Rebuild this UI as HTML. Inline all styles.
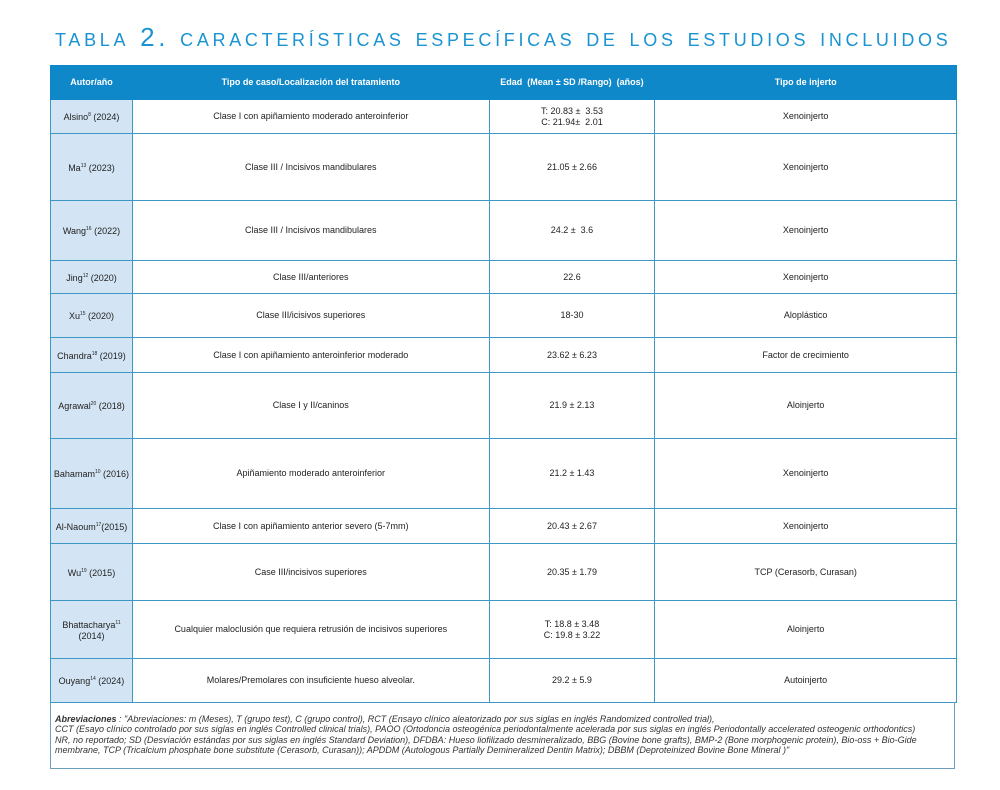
<!DOCTYPE html>
<html><head><meta charset="utf-8"><style>
body{margin:0;width:1000px;height:790px;background:#fff;font-family:"Liberation Sans",sans-serif;position:relative;overflow:hidden}
.t{position:absolute;left:55px;top:22px;font-size:26px;color:#1a93d2;font-variant:small-caps;letter-spacing:3.7px;white-space:nowrap;text-transform:lowercase;font-weight:300}
table{position:absolute;left:50px;top:65px;width:907px;border-collapse:collapse;font-size:9px;color:#222}
td,th{border:1px solid #3f97c4;text-align:center;vertical-align:middle;padding:0 2px;line-height:11px}
th{background:#0f88c9;color:#fff;font-weight:bold;height:33px;border-color:#0f88c9}
td.a{background:#d3e5f4;white-space:nowrap}
sup{font-size:5px}
.f{position:absolute;left:50px;top:702px;width:905px;height:67px;border:1px solid #6aa0bc;border-top:none;font-size:9px;font-style:italic;color:#333;line-height:10.4px;padding:12px 0 0 4px;box-sizing:border-box}
</style></head><body>
<div class="t">Tabla 2. Características específicas de los estudios incluidos</div>
<table>
<colgroup><col style="width:82px"><col style="width:357px"><col style="width:166px"><col style="width:302px"></colgroup>
<tr><th>Autor/año</th><th>Tipo de caso/Localización del tratamiento</th><th>Edad &nbsp;(Mean ± SD /Rango) &nbsp;(años)</th><th>Tipo de injerto</th></tr>
<tr style="height:34px"><td class="a">Alsino<sup>8</sup> (2024)</td><td>Clase I con apiñamiento moderado anteroinferior</td><td>T: 20.83 ± &nbsp;3.53<br>C: 21.94± &nbsp;2.01</td><td>Xenoinjerto</td></tr>
<tr style="height:67px"><td class="a">Ma<sup>13</sup> (2023)</td><td>Clase III / Incisivos mandibulares</td><td>21.05 ± 2.66</td><td>Xenoinjerto</td></tr>
<tr style="height:60px"><td class="a">Wang<sup>16</sup> (2022)</td><td>Clase III / Incisivos mandibulares</td><td>24.2 ± &nbsp;3.6</td><td>Xenoinjerto</td></tr>
<tr style="height:33px"><td class="a">Jing<sup>12</sup> (2020)</td><td>Clase III/anteriores</td><td>22.6</td><td>Xenoinjerto</td></tr>
<tr style="height:44px"><td class="a">Xu<sup>15</sup> (2020)</td><td>Clase III/icisivos superiores</td><td>18-30</td><td>Aloplástico</td></tr>
<tr style="height:35px"><td class="a">Chandra<sup>18</sup> (2019)</td><td>Clase I con apiñamiento anteroinferior moderado</td><td>23.62 ± 6.23</td><td>Factor de crecimiento</td></tr>
<tr style="height:66px"><td class="a">Agrawal<sup>20</sup> (2018)</td><td>Clase I y II/caninos</td><td>21.9 ± 2.13</td><td>Aloinjerto</td></tr>
<tr style="height:70px"><td class="a">Bahamam<sup>10</sup> (2016)</td><td>Apiñamiento moderado anteroinferior</td><td>21.2 ± 1.43</td><td>Xenoinjerto</td></tr>
<tr style="height:35px"><td class="a">Al-Naoum<sup>17</sup>(2015)</td><td>Clase I con apiñamiento anterior severo (5-7mm)</td><td>20.43 ± 2.67</td><td>Xenoinjerto</td></tr>
<tr style="height:57px"><td class="a">Wu<sup>19</sup> (2015)</td><td>Case III/incisivos superiores</td><td>20.35 ± 1.79</td><td>TCP (Cerasorb, Curasan)</td></tr>
<tr style="height:58px"><td class="a">Bhattacharya<sup>11</sup><br>(2014)</td><td>Cualquier maloclusión que requiera retrusión de incisivos superiores</td><td>T: 18.8 ± 3.48<br>C: 19.8 ± 3.22</td><td>Aloinjerto</td></tr>
<tr style="height:44px"><td class="a">Ouyang<sup>14</sup> (2024)</td><td>Molares/Premolares con insuficiente hueso alveolar.</td><td>29.2 ± 5.9</td><td>Autoinjerto</td></tr>
</table>
<div class="f"><b>Abreviaciones</b> : "Abreviaciones: m (Meses), T (grupo test), C (grupo control), RCT (Ensayo clínico aleatorizado por sus siglas en inglés Randomized controlled trial),<br>CCT (Esayo clínico controlado por sus siglas en inglés Controlled clinical trials), PAOO (Ortodoncia osteogénica periodontalmente acelerada por sus siglas en inglés Periodontally accelerated osteogenic orthodontics)<br>NR, no reportado; SD (Desviación estándas por sus siglas en inglés Standard Deviation), DFDBA: Hueso liofilizado desmineralizado, BBG (Bovine bone grafts), BMP-2 (Bone morphogenic protein), Bio-oss + Bio-Gide<br>membrane, TCP (Tricalcium phosphate bone substitute (Cerasorb, Curasan)); APDDM (Autologous Partially Demineralized Dentin Matrix); DBBM (Deproteinized Bovine Bone Mineral )"</div>
</body></html>
